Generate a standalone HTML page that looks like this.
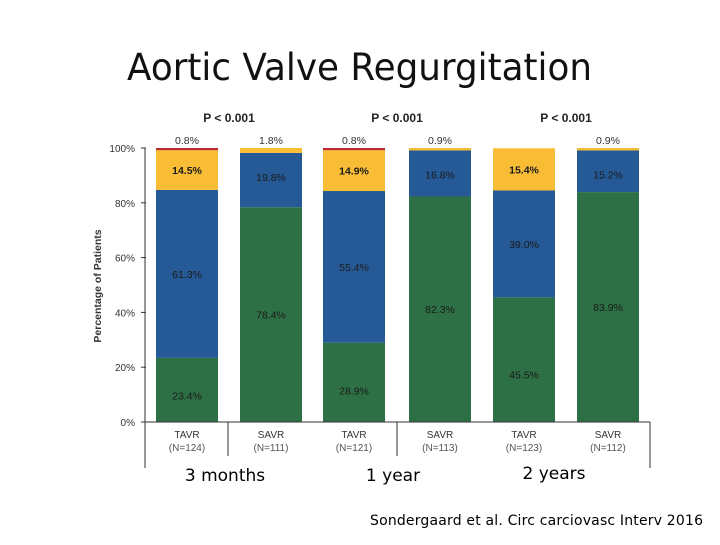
<!DOCTYPE html>
<html><head><meta charset="utf-8"><style>
body{margin:0;background:#fff;width:720px;height:540px;overflow:hidden;font-family:"Liberation Sans",sans-serif}
</style></head><body>
<svg width="720" height="540" id="c" font-family="Liberation Sans, sans-serif">
<text x="127" y="80" font-size="37" textLength="465" lengthAdjust="spacingAndGlyphs" fill="#111" font-family="DejaVu Sans, Liberation Sans, sans-serif">Aortic Valve Regurgitation</text>
<text transform="translate(101,286) rotate(-90)" text-anchor="middle" font-size="10.5" font-weight="bold" fill="#333">Percentage of Patients</text>
<text x="370" y="525" font-size="14" textLength="333" fill="#000" font-family="DejaVu Sans, sans-serif">Sondergaard et al. Circ carciovasc Interv 2016</text>
</svg>
<script>
const categories=["TAVR","SAVR","TAVR","SAVR","TAVR","SAVR"];
const ns=["(N=124)","(N=111)","(N=121)","(N=113)","(N=123)","(N=112)"];
const none=[23.4,78.4,28.9,82.3,45.5,83.9];
const mild=[61.3,19.8,55.4,16.8,39.0,15.2];
const moderate=[14.5,1.8,14.9,0.9,15.4,0.9];
const severe=[0.8,0,0.8,0,0,0];
const yTicks=[0,20,40,60,80,100];
const groups=["3 months","1 year","2 years"];
const pvals=["P < 0.001","P < 0.001","P < 0.001"];
const svg=document.getElementById('c');const NS="http://www.w3.org/2000/svg";
function mk(t,a,txt){const e=document.createElementNS(NS,t);for(const k in a)e.setAttribute(k,a[k]);if(txt!=null)e.textContent=txt;svg.appendChild(e);return e;}
const y0=422,y1=148;const y=v=>y0-(y0-y1)*v/100;
const barX=[156,240,323,409,493,577],bw=62;
const x=i=>barX[i];
yTicks.forEach(t=>{const e=mk('text',{x:135,y:y(t)+4,'text-anchor':'end','font-size':10,fill:'#333'},t+'%');


const l=mk('line',{x1:141,x2:146,y1:y(t),y2:y(t),stroke:'#333'});

});
const cols=["#2e7045","#255a96","#f9bd35","#b8282c"];
const series=[none,mild,moderate,severe];const sn=["none","mild","moderate","severe"];
categories.forEach((c,i)=>{let acc=0;
series.forEach((s,k)=>{const v=s[i];if(v<=0)return;
const r=mk('rect',{x:x(i),y:y(acc+v),width:bw,height:y(acc)-y(acc+v),fill:cols[k]});


let ly;const big=v>5;
if(big){ly=(k==1&&i%2==1)?y(acc+v)+28:(y(acc)+y(acc+v))/2+4;}else ly=y1-4;
if(k==0&&i%2==0)ly=y(acc)-(y(acc)-y(acc+v))*0.35;
const t=mk('text',{x:x(i)+bw/2,y:ly,'text-anchor':'middle','font-size':10.5,fill:big?'#1a1a1a':'#333','font-weight':(k==2&&big)?'bold':'normal'},v.toFixed(1)+'%');


acc+=v;});
const a=mk('text',{x:x(i)+bw/2,y:438,'text-anchor':'middle','font-size':10,fill:'#333'},c);


const b=mk('text',{x:x(i)+bw/2,y:451,'text-anchor':'middle','font-size':10,fill:'#555'},ns[i]);

});
groups.forEach((g,j)=>{const cx=(x(2*j)+x(2*j+1)+bw)/2;
const p=mk('text',{x:cx,y:122,'text-anchor':'middle','font-size':12,'font-weight':'bold',fill:'#222'},pvals[j]);


const t=mk('text',{x:cx-4+(j==2?-8:0),y:j==2?479:481,'text-anchor':'middle','font-size':17,fill:'#000','font-family':'DejaVu Sans, sans-serif'},g);

});
[[145,148,145,468],[145,422,650,422],[228,422,228,456],[397,422,397,456],[650,422,650,468]].forEach(l=>{const e=mk('line',{x1:l[0],y1:l[1],x2:l[2],y2:l[3],stroke:'#333','stroke-width':1});

});
</script>
</body></html>
